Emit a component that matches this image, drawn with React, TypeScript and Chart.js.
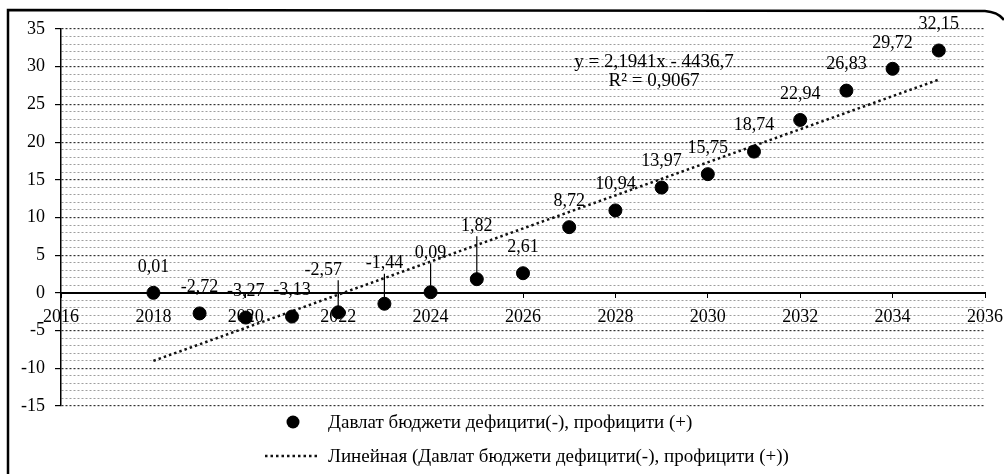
import React, { useEffect, useRef } from "react";
import { Chart, registerables } from "chart.js";

Chart.register(...registerables);

// ---- data ----
const years = [2018, 2019, 2020, 2021, 2022, 2023, 2024, 2025, 2026, 2027, 2028, 2029, 2030, 2031, 2032, 2033, 2034, 2035];
const budgetBalance = [0.01, -2.72, -3.27, -3.13, -2.57, -1.44, 0.09, 1.82, 2.61, 8.72, 10.94, 13.97, 15.75, 18.74, 22.94, 26.83, 29.72, 32.15];
const trendYears = [2018, 2035];
const trendValues = [-9.01, 28.29];
const xRange = [2016, 2036];
const yRange = [-15, 35];
const seriesName = "Давлат бюджети дефицити(-), профицити (+)";
const trendName = "Линейная (Давлат бюджети дефицити(-), профицити (+))";
const equationLines = ["y = 2,1941x - 4436,7", "R² = 0,9067"];

const FONT = "'Liberation Serif', 'Times New Roman', serif";

const fmt = (v: number) => v.toFixed(2).replace(".", ",");

const decorPlugin = {
  id: "decor",
  beforeDraw(chart: any) {
    const { ctx, width, height } = chart;
    ctx.save();
    ctx.fillStyle = "#fff";
    ctx.fillRect(0, 0, width, height);
    // outer frame
    ctx.strokeStyle = "#000";
    ctx.lineWidth = 2.5;
    ctx.beginPath();
    ctx.moveTo(8, height);
    ctx.lineTo(8, 10);
    ctx.lineTo(985, 11);
    ctx.quadraticCurveTo(998, 12, 1004, 20);
    ctx.stroke();
    ctx.restore();
  },
  afterDatasetsDraw(chart: any) {
    const { ctx, chartArea } = chart;
    const meta = chart.getDatasetMeta(0);
    // per-point label shifts [dx, lift]; default lift 26
    const shifts: Record<number, [number, number]> = { 4: [-15, 42], 5: [0, 40], 6: [0, 39], 7: [0, 53] };
    ctx.save();
    ctx.font = `18px ${FONT}`;
    ctx.fillStyle = "#000";
    ctx.strokeStyle = "#000";
    ctx.textAlign = "center";
    ctx.textBaseline = "middle";
    meta.data.forEach((el: any, i: number) => {
      const [dx, lift] = shifts[i] || [0, 26];
      const lx = el.x + dx;
      const ly = el.y - lift;
      ctx.fillText(fmt(budgetBalance[i]), lx, ly);
      if (shifts[i]) {
        ctx.lineWidth = 1.2;
        ctx.beginPath();
        ctx.moveTo(el.x, ly + 10);
        ctx.lineTo(el.x, el.y - 6);
        ctx.stroke();
      }
    });
    // trend equation
    ctx.font = `19px ${FONT}`;
    const ex = chartArea.left + 593;
    ctx.fillText(equationLines[0], ex, 62);
    ctx.fillText(equationLines[1], ex, 81);

    // legend
    const ds0 = chart.data.datasets[0];
    const ds1 = chart.data.datasets[1];
    ctx.textAlign = "left";
    ctx.font = `19px ${FONT}`;
    ctx.fillStyle = ds0.backgroundColor;
    ctx.beginPath();
    ctx.arc(293, 422, 6.5, 0, Math.PI * 2);
    ctx.fill();
    ctx.fillStyle = "#000";
    ctx.fillText(ds0.label, 328, 423);
    ctx.strokeStyle = ds1.borderColor;
    ctx.lineWidth = ds1.borderWidth;
    ctx.setLineDash(ds1.borderDash);
    ctx.beginPath();
    ctx.moveTo(265, 456);
    ctx.lineTo(320, 456);
    ctx.stroke();
    ctx.setLineDash([]);
    ctx.fillText(ds1.label, 328, 457);
    ctx.restore();
  },
};

export default function App() {
  const ref = useRef<HTMLCanvasElement | null>(null);
  useEffect(() => {
    if (!ref.current) return;
    const chart = new Chart(ref.current, {
      type: "scatter",
      data: {
        datasets: [
          {
            label: seriesName,
            data: years.map((y, i) => ({ x: y, y: budgetBalance[i] })),
            backgroundColor: "#000",
            borderColor: "#000",
            pointRadius: 6.5,
            pointHoverRadius: 6.5,
            order: 1,
          },
          {
            label: trendName,
            data: trendYears.map((y, i) => ({ x: y, y: trendValues[i] })),
            showLine: true,
            borderColor: "#111",
            borderWidth: 2.5,
            borderDash: [2.5, 3],
            pointRadius: 0,
            order: 2,
          } as any,
        ],
      },
      options: {
        responsive: false,
        animation: false,
        devicePixelRatio: 1,
        layout: { padding: { left: 0, top: 29, right: 19, bottom: 68 } },
        plugins: {
          legend: { display: false },
          tooltip: { enabled: false },
        },
        scales: {
          x: {
            type: "linear",
            position: { y: 0 } as any,
            min: xRange[0],
            max: xRange[1],
            afterFit: (s: any) => {
              s.paddingRight = 0;
              s.paddingLeft = 0;
            },
            ticks: {
              stepSize: 2,
              color: "#000",
              font: { family: FONT, size: 18 },
              padding: 10,
              maxRotation: 0,
              callback: (v: any) => String(v),
            },
            grid: { drawOnChartArea: false, drawTicks: true, tickLength: 4, tickColor: "#000" },
            border: { display: true, color: "#000", width: 2 },
          },
          y: {
            min: yRange[0],
            max: yRange[1],
            afterFit: (s: any) => {
              s.width = 61;
            },
            ticks: {
              stepSize: 1,
              autoSkip: false,
              color: "#000",
              font: { family: FONT, size: 18 },
              padding: 10,
              callback: (v: any) => (Number(v) % 5 === 0 ? String(v) : ""),
            },
            grid: {
              color: (c: any) => (c.tick && c.tick.value % 5 === 0 ? "rgba(0,0,0,0.8)" : "rgba(0,0,0,0.38)"),
              lineWidth: (c: any) => (c.tick && c.tick.value % 5 === 0 ? 1.2 : 1),
              tickColor: (c: any) => (c.tick && c.tick.value % 5 === 0 ? "#000" : "rgba(0,0,0,0)"),
              tickLength: 6,
            },
            border: { display: true, color: "#000", width: 1.5, dash: [2, 2] },
          },
        },
      },
      plugins: [decorPlugin],
    });
    return () => chart.destroy();
  }, []);
  return (
    <div style={{ position: "absolute", left: 0, top: 0, width: 1004, height: 474 }}>
      <canvas ref={ref} width={1004} height={474} style={{ display: "block" }} />
    </div>
  );
}
